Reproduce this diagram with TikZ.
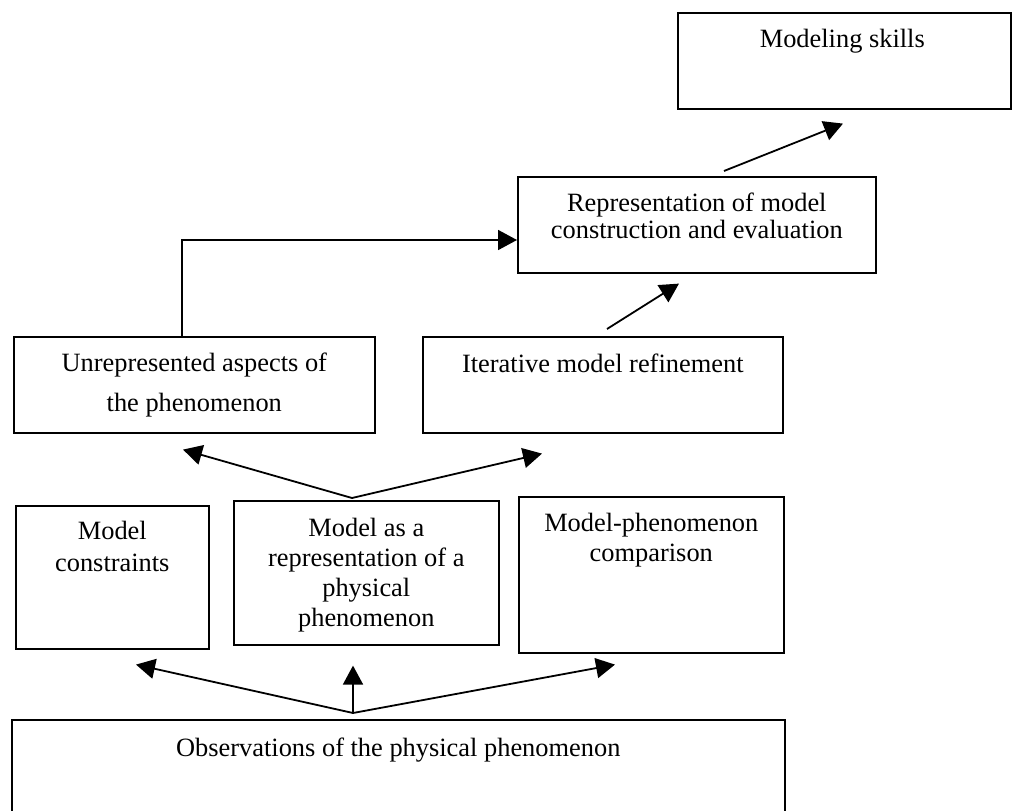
\documentclass[tikz,border=0pt]{standalone}
\usepackage{fontspec}
\setmainfont{Liberation Serif}
\usetikzlibrary{arrows.meta}
\begin{document}
\begin{tikzpicture}[x=1pt,y=-1pt,
  box/.style={draw, line width=1.6pt, inner sep=0pt, anchor=north west},
  lbl/.style={anchor=base, inner sep=0pt, align=center, font=\fontsize{26.4}{30}\selectfont},
  arr/.style={line width=1.8pt, -{Triangle[length=19pt,width=20pt]}}]
\useasboundingbox (0,0) rectangle (1013,811);
% boxes
\node[box, minimum width=333pt, minimum height=96pt] (ms) at (677,12) {};
\node[box, minimum width=358pt, minimum height=96pt] (repr) at (517,176) {};
\node[box, minimum width=361pt, minimum height=96pt] (unrep) at (13,336) {};
\node[box, minimum width=360pt, minimum height=96pt] (iter) at (422,336) {};
\node[box, minimum width=193pt, minimum height=143pt] (mc) at (15,505) {};
\node[box, minimum width=265pt, minimum height=144pt] (mas) at (233,500) {};
\node[box, minimum width=265pt, minimum height=156pt] (mp) at (518,496) {};
\node[box, minimum width=773pt, minimum height=110pt] (obs) at (11,719) {};
% texts (anchor base = baseline of the last line)
\node[lbl] (tms) at ([shift={(-2,35)}]ms.north) {Modeling skills};
\node[lbl, font=\fontsize{26.4}{27}\selectfont] (trepr) at ([shift={(0,62)}]repr.north) {Representation of model\\construction and evaluation};
\node[lbl, font=\fontsize{26.4}{40}\selectfont] (tunrep) at ([shift={(0,75)}]unrep.north) {Unrepresented aspects of\\the phenomenon};
\node[lbl] (titer) at ([shift={(0,36)}]iter.north) {Iterative model refinement};
\node[lbl, font=\fontsize{26.4}{32}\selectfont] (tmc) at ([shift={(0,66)}]mc.north) {Model\\constraints};
\node[lbl, font=\fontsize{26.4}{29.7}\selectfont] (tmas) at ([shift={(0,126)}]mas.north) {Model as a\\representation of a\\physical\\phenomenon};
\node[lbl] (tmp) at ([shift={(0,65)}]mp.north) {Model-phenomenon\\comparison};
\node[lbl] (tobs) at ([shift={(0,37)}]obs.north) {Observations of the physical phenomenon};
% connectors
\draw[arr] ([shift={(207,-5)}]repr.north west) -- ([shift={(166,14)}]ms.south west);
\draw[arr] ([shift={(169,0)}]unrep.north west) |- ([shift={(0,64)}]repr.north west);
\draw[arr] ([shift={(185,-7)}]iter.north west) -- ([shift={(162,10)}]repr.south west);
\coordinate (masTop) at ([shift={(119,-2)}]mas.north west);
\draw[arr] (masTop) -- ([shift={(170,16)}]unrep.south west);
\draw[arr] (masTop) -- ([shift={(120,20)}]iter.south west);
\coordinate (obsTop) at ([shift={(342,-6)}]obs.north west);
\draw[arr] (obsTop) -- ([shift={(121,15)}]mc.south west);
\draw[arr] (obsTop) -- ([shift={(120,20)}]mas.south west);
\draw[arr] (obsTop) -- ([shift={(97,11)}]mp.south west);
\end{tikzpicture}
\end{document}
